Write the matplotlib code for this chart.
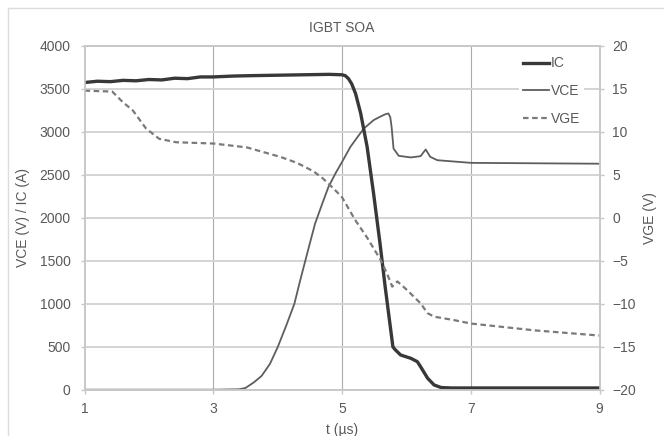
import matplotlib.pyplot as plt
from matplotlib.lines import Line2D

# IC (A)
t_ic = [1.0, 1.2, 1.4, 1.6, 1.8, 2.0, 2.2, 2.4, 2.6, 2.8, 3.0, 3.3, 3.6, 4.0,
        4.4, 4.8, 5.0, 5.05, 5.1, 5.15, 5.21, 5.29, 5.39, 5.49, 5.59, 5.67,
        5.75, 5.79, 5.82, 5.91, 6.07, 6.17, 6.22, 6.33, 6.43, 6.54, 6.7, 7.0,
        7.5, 8.0, 8.5, 9.0]
ic = [3575, 3590, 3585, 3600, 3595, 3610, 3605, 3625, 3620, 3640, 3640, 3650,
      3655, 3660, 3665, 3670, 3665, 3655, 3620, 3560, 3447, 3215, 2826, 2284,
      1703, 1198, 733, 500, 470, 404, 365, 326, 268, 133, 55, 25, 20, 20, 20,
      20, 20, 20]

# VCE (V)
t_vce = [1.0, 2.0, 3.0, 3.4, 3.5, 3.63, 3.75, 3.88, 4.0, 4.13, 4.26, 4.35,
         4.45, 4.58, 4.7, 4.79, 4.9, 5.0, 5.13, 5.25, 5.34, 5.49, 5.6, 5.675,
         5.72, 5.75, 5.77, 5.80, 5.88, 6.07, 6.22, 6.30, 6.37, 6.48, 7.0, 8.0,
         9.0]
vce = [0, 0, 0, 5, 20, 85, 160, 300, 494, 740, 1000, 1272, 1560, 1930, 2180,
       2361, 2520, 2650, 2826, 2950, 3040, 3137, 3180, 3206, 3215, 3170, 3059,
       2807, 2722, 2703, 2718, 2796, 2710, 2671, 2640, 2635, 2630]

# VGE (V), right axis
t_vge = [1.0, 1.43, 1.59, 1.75, 1.955, 2.16, 2.42, 3.0, 3.52, 4.04, 4.3,
         4.56, 4.7, 4.87, 5.0, 5.2, 5.39, 5.60, 5.70, 5.78, 5.86, 6.01, 6.22,
         6.33, 6.43, 6.74, 7.0, 8.0, 9.0]
vge = [14.8, 14.7, 13.5, 12.5, 10.4, 9.2, 8.8, 8.65, 8.2, 7.1, 6.4, 5.4, 4.6,
       3.4, 2.4, -0.2, -2.3, -4.9, -6.5, -8.0, -7.4, -8.4, -9.95, -11.1,
       -11.5, -11.9, -12.3, -13.1, -13.7]

x_ticks = [1, 3, 5, 7, 9]

TXT = '#595959'
GRID = '#d4d4d4'

plt.rcParams['font.family'] = ['Liberation Sans', 'DejaVu Sans']
plt.rcParams['font.size'] = 10

fig = plt.figure(figsize=(6.64, 4.36), dpi=100)
fig.subplots_adjust(left=0.1273, right=0.9029, top=0.8945, bottom=0.1062)
ax = fig.add_subplot(111)
ax2 = ax.twinx()

# chart area border (top and left visible)
fig.add_artist(Line2D([8 / 664, 1], [1 - 8 / 436, 1 - 8 / 436],
                      color='#dcdcdc', lw=1, transform=fig.transFigure))
fig.add_artist(Line2D([8 / 664, 8 / 664], [0, 1 - 8 / 436],
                      color='#dcdcdc', lw=1, transform=fig.transFigure))

ax.set_xlim(1, 9)
ax.set_ylim(0, 4000)
ax.set_xticks(x_ticks)
ax.set_yticks(range(0, 4001, 500))
ax2.set_ylim(-20, 20)
ax2.set_yticks(range(-20, 21, 5))

ax.grid(axis='y', color=GRID, lw=1.4)
for xv in [3, 5, 7]:
    ax.axvline(xv, color='#ababab', lw=0.8, zorder=0.5)
ax.set_axisbelow(True)

for a in (ax, ax2):
    for s in a.spines.values():
        s.set_color('#c8c8c8')
        s.set_linewidth(1.2)
    a.tick_params(colors=TXT, labelsize=10, length=3, width=1,
                  color='#c8c8c8')
ax.tick_params(axis='y', pad=7)
ax.tick_params(axis='x', pad=6)
ax2.tick_params(axis='y', pad=6)

l_ic, = ax.plot(t_ic, ic, color='#383838', lw=2.4, label='IC', zorder=3)
l_vce, = ax.plot(t_vce, vce, color='#5e5e5e', lw=1.3, label='VCE', zorder=2)
l_vge, = ax2.plot(t_vge, vge, color='#7a7a7a', lw=1.6, ls=(0, (2.5, 1.6)),
                  label='VGE')

ax.set_xlabel('t (\u00b5s)', color=TXT, labelpad=5)
ax.set_ylabel('VCE (V) / IC (A)', color=TXT, labelpad=7)
ax2.set_ylabel('VGE (V)', color=TXT, labelpad=5)
ax.set_title('IGBT SOA', color=TXT, fontsize=10, pad=10)

leg = ax2.legend(handles=[l_ic, l_vce, l_vge], loc='upper right',
                 bbox_to_anchor=(0.984, 1.002), frameon=True, framealpha=1,
                 facecolor='white', edgecolor='none', fancybox=False,
                 handlelength=1.9, handletextpad=0.1, labelspacing=1.0,
                 borderpad=0.3)
for txt in leg.get_texts():
    txt.set_color(TXT)

plt.savefig('out.png', dpi=100)
